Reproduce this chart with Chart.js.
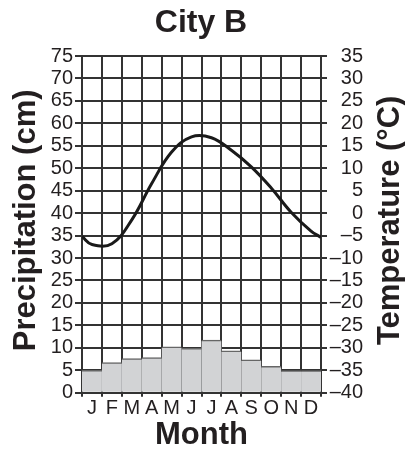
<!DOCTYPE html>
<html>
<head>
<meta charset="utf-8">
<script src="https://cdn.jsdelivr.net/npm/chart.js@4/dist/chart.umd.min.js"></script>
<style>
  html, body { margin: 0; padding: 0; background: #fff; }
  #wrap { width: 405px; height: 451px; }
</style>
</head>
<body>
<div id="wrap"><canvas id="climate"></canvas></div>
<script>
// month labels and monthly precipitation (cm)
var months = ['J', 'F', 'M', 'A', 'M', 'J', 'J', 'A', 'S', 'O', 'N', 'D'];
var precip = [5.0, 6.7, 7.6, 7.8, 10.2, 9.9, 11.7, 9.3, 7.3, 5.9, 4.9, 4.9];

// temperature curve (°C): year start, mid-month values, year end
var tempPos = [0, 0.5, 1.5, 2.5, 3.5, 4.5, 5.5, 6.5, 7.5, 8.5, 9.5, 10.5, 11.5, 12];
var temps = [-5.2, -7.0, -6.8, -1.5, 6.6, 13.6, 17.0, 16.8, 14.0, 10.3, 5.6, 0.2, -4.0, -5.4];

// axis tick labels
var precipTicks = ['0', '5', '10', '15', '20', '25', '30', '35', '40', '45', '50', '55', '60', '65', '70', '75'];
var tempTicks = ['\u201340', '\u201335', '\u201330', '\u201325', '\u201320', '\u201315', '\u201310', '\u20135',
  '0', '5', '10', '15', '20', '25', '30', '35'];

Chart.defaults.font.family = '"Liberation Sans", Arial, Helvetica, sans-serif';
Chart.defaults.color = '#231f20';

var gridColor = '#333333';

// both y-axis titles read bottom to top
var sideTitles = {
  id: 'sideTitles',
  afterDraw: function (chart) {
    var ctx = chart.ctx, area = chart.chartArea;
    var midY = (area.top + area.bottom) / 2 - 4;
    function put(text, x) {
      ctx.save();
      ctx.translate(x, midY);
      ctx.rotate(-Math.PI / 2);
      ctx.font = 'bold 31px "Liberation Sans", Arial, sans-serif';
      ctx.fillStyle = '#231f20';
      ctx.textAlign = 'center';
      ctx.textBaseline = 'middle';
      ctx.fillText(text, 0, 0);
      ctx.restore();
    }
    put('Precipitation (cm)', chart.scales.yP.left - 13);
    put('Temperature (\u00b0C)', chart.scales.yT.right + 27);
  }
};

var pts = tempPos.map(function (p, i) { return { x: p, y: temps[i] }; });

new Chart(document.getElementById('climate'), {
  data: {
    labels: months,
    datasets: [{
      type: 'line',
      data: pts,
      xAxisID: 'xT',
      yAxisID: 'yT',
      borderColor: '#1a1a1a',
      borderWidth: 3,
      pointRadius: 0,
      tension: 0.4,
      fill: false,
      order: 0
    }, {
      type: 'bar',
      data: precip,
      xAxisID: 'x',
      yAxisID: 'yP',
      backgroundColor: '#d2d3d5',
      borderColor: '#666666',
      borderWidth: { top: 1.5, left: 0, right: 0, bottom: 0 },
      borderSkipped: false,
      grouped: false,
      barPercentage: 1,
      categoryPercentage: 1,
      order: 1
    }]
  },
  options: {
    responsive: true,
    maintainAspectRatio: false,
    animation: false,
    layout: { padding: { left: 39, right: 42, top: 0, bottom: 0 } },
    plugins: {
      legend: { display: false },
      tooltip: { enabled: false },
      title: {
        display: true,
        text: 'City B',
        color: '#231f20',
        font: { size: 32, weight: 'bold' },
        padding: { top: 4, bottom: 13.6 }
      }
    },
    scales: {
      x: {
        type: 'category',
        offset: true,
        grid: { offset: true, color: gridColor, lineWidth: 2, tickLength: 4 },
        border: { color: gridColor, width: 2 },
        ticks: { font: { size: 20 }, padding: 0, maxRotation: 0, autoSkip: false },
        title: { display: true, text: 'Month', font: { size: 31, weight: 'bold', lineHeight: 1 }, padding: 0 },
        afterFit: function (s) { s.height = 58.3; }
      },
      xT: {
        type: 'linear',
        display: false,
        min: 0,
        max: 12
      },
      yP: {
        position: 'left',
        min: 0,
        max: 75,
        grid: { color: gridColor, lineWidth: 2, tickLength: 7 },
        border: { color: gridColor, width: 2 },
        ticks: {
          stepSize: 5, autoSkip: false, padding: 2, font: { size: 20 },
          callback: function (v, i) { return precipTicks[i]; }
        },
        afterFit: function (s) { s.width = 43; }
      },
      yT: {
        position: 'right',
        min: -40,
        max: 35,
        grid: { drawOnChartArea: false, color: gridColor, lineWidth: 2, tickLength: 6 },
        border: { color: gridColor, width: 2 },
        ticks: {
          stepSize: 5, autoSkip: false, padding: 2, crossAlign: 'far', font: { size: 20 },
          callback: function (v, i) { return tempTicks[i]; }
        },
        afterFit: function (s) { s.width = 42; }
      }
    }
  },
  plugins: [sideTitles]
});
</script>
</body>
</html>
